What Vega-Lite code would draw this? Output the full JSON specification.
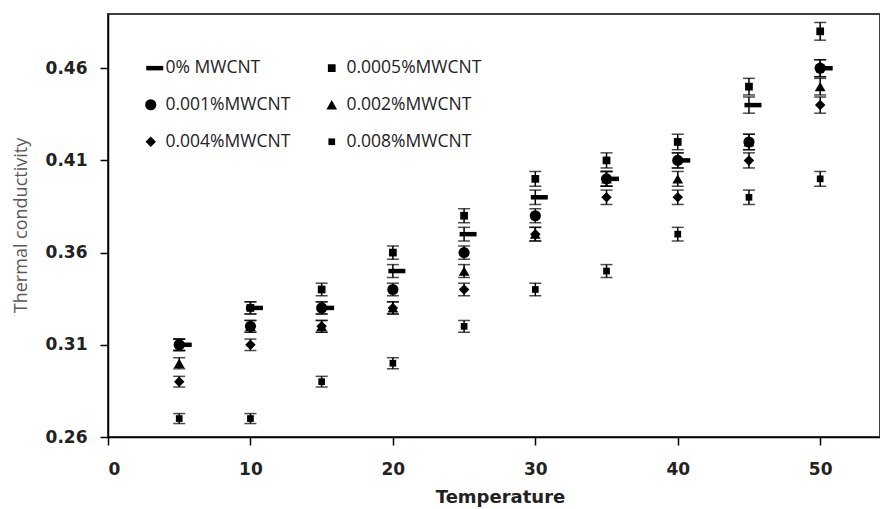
{
  "$schema": "https://vega.github.io/schema/vega-lite/v6.json",
  "width": 772,
  "height": 423,
  "autosize": {"type": "none"},
  "padding": {"left": 108, "top": 14, "right": 0, "bottom": 72},
  "background": "white",
  "config": {
    "view": {"stroke": "#404040", "strokeWidth": 2},
    "axis": {"grid": false, "domainColor": "#000000", "domainWidth": 1.5, "tickColor": "#000000", "tickWidth": 1.5, "tickSize": 8, "labelFont": "DejaVu Sans", "labelFontWeight": "bold", "labelFontSize": 17, "labelColor": "#222222"},
    "legend": {"orient": "none", "legendX": 34, "legendY": 45, "columns": 2, "title": null, "labelFont": "Open Sans", "labelFontSize": 17.5, "labelColor": "#222222", "rowPadding": 18, "columnPadding": 32, "symbolFillColor": "black", "symbolStrokeColor": "black", "symbolOpacity": 1, "labelOffset": 6}
  },
  "data": {
    "values": [
      {"temp": 5, "conc": "0% MWCNT", "tc": 0.31, "err": 0.0031},
      {"temp": 10, "conc": "0% MWCNT", "tc": 0.33, "err": 0.0033},
      {"temp": 15, "conc": "0% MWCNT", "tc": 0.33, "err": 0.0033},
      {"temp": 20, "conc": "0% MWCNT", "tc": 0.35, "err": 0.0035},
      {"temp": 25, "conc": "0% MWCNT", "tc": 0.37, "err": 0.0037},
      {"temp": 30, "conc": "0% MWCNT", "tc": 0.39, "err": 0.0039},
      {"temp": 35, "conc": "0% MWCNT", "tc": 0.40, "err": 0.0040},
      {"temp": 40, "conc": "0% MWCNT", "tc": 0.41, "err": 0.0041},
      {"temp": 45, "conc": "0% MWCNT", "tc": 0.44, "err": 0.0044},
      {"temp": 50, "conc": "0% MWCNT", "tc": 0.46, "err": 0.0046},
      {"temp": 5, "conc": "0.0005%MWCNT", "tc": 0.31, "err": 0.0031},
      {"temp": 10, "conc": "0.0005%MWCNT", "tc": 0.33, "err": 0.0033},
      {"temp": 15, "conc": "0.0005%MWCNT", "tc": 0.34, "err": 0.0034},
      {"temp": 20, "conc": "0.0005%MWCNT", "tc": 0.36, "err": 0.0036},
      {"temp": 25, "conc": "0.0005%MWCNT", "tc": 0.38, "err": 0.0038},
      {"temp": 30, "conc": "0.0005%MWCNT", "tc": 0.40, "err": 0.0040},
      {"temp": 35, "conc": "0.0005%MWCNT", "tc": 0.41, "err": 0.0041},
      {"temp": 40, "conc": "0.0005%MWCNT", "tc": 0.42, "err": 0.0042},
      {"temp": 45, "conc": "0.0005%MWCNT", "tc": 0.45, "err": 0.0045},
      {"temp": 50, "conc": "0.0005%MWCNT", "tc": 0.48, "err": 0.0048},
      {"temp": 5, "conc": "0.001%MWCNT", "tc": 0.31, "err": 0.0031},
      {"temp": 10, "conc": "0.001%MWCNT", "tc": 0.32, "err": 0.0032},
      {"temp": 15, "conc": "0.001%MWCNT", "tc": 0.33, "err": 0.0033},
      {"temp": 20, "conc": "0.001%MWCNT", "tc": 0.34, "err": 0.0034},
      {"temp": 25, "conc": "0.001%MWCNT", "tc": 0.36, "err": 0.0036},
      {"temp": 30, "conc": "0.001%MWCNT", "tc": 0.38, "err": 0.0038},
      {"temp": 35, "conc": "0.001%MWCNT", "tc": 0.40, "err": 0.0040},
      {"temp": 40, "conc": "0.001%MWCNT", "tc": 0.41, "err": 0.0041},
      {"temp": 45, "conc": "0.001%MWCNT", "tc": 0.42, "err": 0.0042},
      {"temp": 50, "conc": "0.001%MWCNT", "tc": 0.46, "err": 0.0046},
      {"temp": 5, "conc": "0.002%MWCNT", "tc": 0.30, "err": 0.0030},
      {"temp": 10, "conc": "0.002%MWCNT", "tc": 0.32, "err": 0.0032},
      {"temp": 15, "conc": "0.002%MWCNT", "tc": 0.32, "err": 0.0032},
      {"temp": 20, "conc": "0.002%MWCNT", "tc": 0.33, "err": 0.0033},
      {"temp": 25, "conc": "0.002%MWCNT", "tc": 0.35, "err": 0.0035},
      {"temp": 30, "conc": "0.002%MWCNT", "tc": 0.37, "err": 0.0037},
      {"temp": 35, "conc": "0.002%MWCNT", "tc": 0.40, "err": 0.0040},
      {"temp": 40, "conc": "0.002%MWCNT", "tc": 0.40, "err": 0.0040},
      {"temp": 45, "conc": "0.002%MWCNT", "tc": 0.42, "err": 0.0042},
      {"temp": 50, "conc": "0.002%MWCNT", "tc": 0.45, "err": 0.0045},
      {"temp": 5, "conc": "0.004%MWCNT", "tc": 0.29, "err": 0.0029},
      {"temp": 10, "conc": "0.004%MWCNT", "tc": 0.31, "err": 0.0031},
      {"temp": 15, "conc": "0.004%MWCNT", "tc": 0.32, "err": 0.0032},
      {"temp": 20, "conc": "0.004%MWCNT", "tc": 0.33, "err": 0.0033},
      {"temp": 25, "conc": "0.004%MWCNT", "tc": 0.34, "err": 0.0034},
      {"temp": 30, "conc": "0.004%MWCNT", "tc": 0.37, "err": 0.0037},
      {"temp": 35, "conc": "0.004%MWCNT", "tc": 0.39, "err": 0.0039},
      {"temp": 40, "conc": "0.004%MWCNT", "tc": 0.39, "err": 0.0039},
      {"temp": 45, "conc": "0.004%MWCNT", "tc": 0.41, "err": 0.0041},
      {"temp": 50, "conc": "0.004%MWCNT", "tc": 0.44, "err": 0.0044},
      {"temp": 5, "conc": "0.008%MWCNT", "tc": 0.27, "err": 0.0027},
      {"temp": 10, "conc": "0.008%MWCNT", "tc": 0.27, "err": 0.0027},
      {"temp": 15, "conc": "0.008%MWCNT", "tc": 0.29, "err": 0.0029},
      {"temp": 20, "conc": "0.008%MWCNT", "tc": 0.30, "err": 0.0030},
      {"temp": 25, "conc": "0.008%MWCNT", "tc": 0.32, "err": 0.0032},
      {"temp": 30, "conc": "0.008%MWCNT", "tc": 0.34, "err": 0.0034},
      {"temp": 35, "conc": "0.008%MWCNT", "tc": 0.35, "err": 0.0035},
      {"temp": 40, "conc": "0.008%MWCNT", "tc": 0.37, "err": 0.0037},
      {"temp": 45, "conc": "0.008%MWCNT", "tc": 0.39, "err": 0.0039},
      {"temp": 50, "conc": "0.008%MWCNT", "tc": 0.40, "err": 0.0040}
    ]
  },
  "encoding": {
    "x": {
      "field": "temp",
      "type": "quantitative",
      "scale": {"domain": [0, 54.2], "nice": false, "zero": false},
      "axis": {"values": [0, 10, 20, 30, 40, 50], "labelPadding": 16, "title": "Temperature", "titleFont": "DejaVu Sans", "titleFontWeight": "bold", "titleFontSize": 18, "titleColor": "#222222", "titleX": 392, "titleY": 60, "titleBaseline": "middle"}
    },
    "y": {
      "field": "tc",
      "type": "quantitative",
      "scale": {"domain": [0.26, 0.4894], "nice": false, "zero": false},
      "axis": {"values": [0.26, 0.31, 0.36, 0.41, 0.46], "format": ".2f", "labelPadding": 13, "title": "Thermal conductivity", "titleFont": "Open Sans", "titleFontWeight": "normal", "titleFontSize": 18, "titleColor": "#595959", "titleX": -87, "titleY": 211, "titleBaseline": "middle"}
    }
  },
  "layer": [
    {
      "mark": {"type": "errorbar", "ticks": {"size": 12}, "color": "black", "thickness": 1.5},
      "encoding": {
        "y": {"field": "tc", "type": "quantitative", "title": "Thermal conductivity"},
        "yError": {"field": "err"}
      }
    },
    {
      "mark": {"type": "point", "filled": true, "opacity": 1, "color": "black"},
      "encoding": {
        "shape": {
          "field": "conc",
          "type": "nominal",
          "scale": {
            "type": "ordinal",
            "domain": ["0% MWCNT", "0.001%MWCNT", "0.004%MWCNT", "0.0005%MWCNT", "0.002%MWCNT", "0.008%MWCNT"],
            "range": ["M-0.9,-0.45H2.5V0.45H-0.9Z", "circle", "diamond", "square", "triangle-up", "square"]
          }
        },
        "size": {
          "field": "conc",
          "type": "nominal",
          "scale": {
            "type": "ordinal",
            "domain": ["0% MWCNT", "0.001%MWCNT", "0.004%MWCNT", "0.0005%MWCNT", "0.002%MWCNT", "0.008%MWCNT"],
            "range": [100, 125, 110, 60, 115, 45]
          }
        }
      }
    }
  ]
}
